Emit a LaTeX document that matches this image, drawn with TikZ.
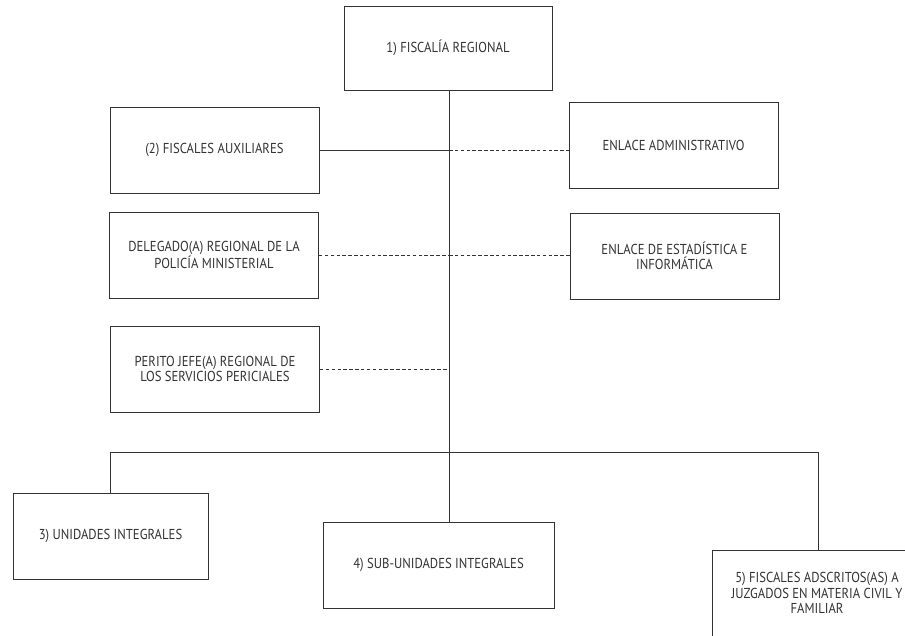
\documentclass[tikz,border=0pt]{standalone}
\usepackage{fontspec}
\setmainfont{PT Sans}[FakeStretch=0.88]
\usetikzlibrary{positioning}

\tikzset{
  unit/.style={draw=black!80, line width=0.8pt, rectangle, inner sep=2pt,
    align=center, text=black!80, font=\fontsize{12.3}{13}\selectfont,
    minimum width=6.27cm, minimum height=2.58cm},
  link/.style={draw=black!80, line width=0.8pt},
  dotlink/.style={link, dash pattern=on 3pt off 2pt}
}

\begin{document}
\begin{tikzpicture}[x=0.03cm, y=-0.03cm]
  \useasboundingbox (0,0) rectangle (905,635);
  \clip (0,0) rectangle (905,635);

  \node[unit, minimum width=6.24cm, minimum height=2.52cm] (f1) at (448,48) {1) FISCALÍA REGIONAL};
  \node[unit] (aux) at (214.5,150) {(2) FISCALES AUXILIARES};
  \node[unit] (enl) at (673.5,145) {ENLACE ADMINISTRATIVO};
  \node[unit] (pol) at (214,255) {DELEGADO(A) REGIONAL DE LA\\POLICÍA MINISTERIAL};
  \node[unit] (est) at (674.5,256) {ENLACE DE ESTADÍSTICA E\\INFORMÁTICA};
  \node[unit] (per) at (215,369) {PERITO JEFE(A) REGIONAL DE\\LOS SERVICIOS PERICIALES};
  \node[unit, minimum width=5.85cm] (u3) at (110.5,536) {3) UNIDADES INTEGRALES};
  \node[unit, minimum width=6.93cm] (u4) at (438.5,565) {4) SUB-UNIDADES INTEGRALES};
  \node[unit, minimum width=6.3cm] (u5) at (817,593) {5) FISCALES ADSCRITOS(AS) A\\JUZGADOS EN MATERIA CIVIL Y\\FAMILIAR};

  \coordinate (bus) at (449,452);

  % trunk and branches
  \draw[link] (f1.south -| bus) -- (bus |- u4.north);
  \draw[link] (aux.east) -- (aux.east -| bus);
  \draw[dotlink] (aux.east -| bus) -- (aux.east -| enl.west);
  \draw[dotlink] (pol.east) -- (pol.east -| bus);
  \draw[dotlink] (pol.east -| bus) -- (pol.east -| est.west);
  \draw[dotlink] (per.east) -- (per.east -| bus);
  \draw[link] (u3.north) |- (bus) -| ([xshift=0.03cm]u5.north);
\end{tikzpicture}
\end{document}
